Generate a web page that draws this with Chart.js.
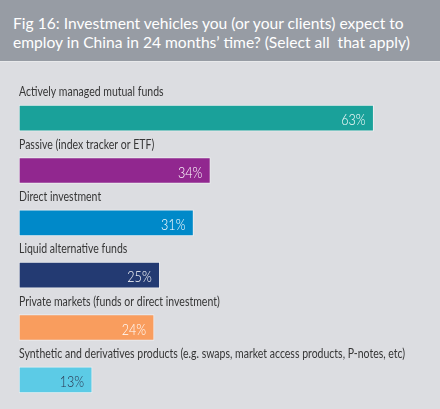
<!DOCTYPE html>
<html>
<head>
<meta charset="utf-8">
<script src="https://cdn.jsdelivr.net/npm/chart.js@4/dist/chart.umd.min.js"></script>
<style>
  html, body { margin: 0; padding: 0; }
  body { width: 440px; height: 409px; background: #dcdde1; position: relative; overflow: hidden;
         font-family: Lato, sans-serif; }
  #header { position: absolute; left: 0; top: 0; width: 440px; height: 61px; background: #979ca4;
            border-bottom: 1px solid #e8e9eb; box-sizing: content-box; }
  #header div { position: absolute; left: 13px; top: 12.5px; color: #ffffff; font-size: 16px; line-height: 19px;
                white-space: nowrap; transform: scaleX(0.975); transform-origin: 0 0; }
  #wrap { position: absolute; left: 0; top: 62px; width: 440px; height: 347px; }
</style>
</head>
<body>
<div id="header"><div>Fig 16: Investment vehicles you (or your clients) expect to<br>employ in China in 24 months’ time? (Select all&nbsp; that apply)</div></div>
<div id="wrap"><canvas id="c"></canvas></div>
<script>
const categories = [
  "Actively managed mutual funds",
  "Passive (index tracker or ETF)",
  "Direct investment",
  "Liquid alternative funds",
  "Private markets (funds or direct investment)",
  "Synthetic and derivatives products (e.g. swaps, market access products, P-notes, etc)"
];
const values = [63, 34, 31, 25, 24, 13];
const valueLabels = ["63%", "34%", "31%", "25%", "24%", "13%"];
const barColors = ["#1aa19a", "#91278f", "#0089c9", "#233a72", "#f99d5e", "#5ccbe6"];
const labelColors = ["#ffffff", "#ffffff", "#ffffff", "#ffffff", "#ffffff", "#2a3550"];

const FONT = 'Lato, sans-serif';

const labelPlugin = {
  id: 'barLabels',
  afterDatasetsDraw(chart) {
    const ctx = chart.ctx;
    const meta = chart.getDatasetMeta(0);
    meta.data.forEach((bar, i) => {
      const p = bar.getProps(['x', 'y', 'base', 'height'], true);
      const top = p.y - p.height / 2;
      // category label above the bar (condensed)
      ctx.save();
      ctx.font = '12.5px ' + FONT;
      ctx.fillStyle = '#363636';
      ctx.textAlign = 'left';
      ctx.textBaseline = 'alphabetic';
      ctx.translate(p.base, top - 9);
      ctx.scale(0.84, 1);
      ctx.fillText(categories[i], 0, 0);
      ctx.restore();
      // value label inside the bar end
      ctx.save();
      ctx.font = '300 15px ' + FONT;
      ctx.fillStyle = labelColors[i];
      ctx.textAlign = 'right';
      ctx.textBaseline = 'alphabetic';
      ctx.translate(p.x - 8, p.y + 7);
      ctx.scale(0.84, 1);
      ctx.fillText(valueLabels[i], 0, 0);
      ctx.restore();
    });
  }
};

new Chart(document.getElementById('c'), {
  type: 'bar',
  data: {
    labels: categories,
    datasets: [{
      data: values,
      backgroundColor: barColors,
      borderColor: 'rgba(245,245,247,0.7)',
      borderWidth: 1,
      borderSkipped: false,
      barThickness: 26
    }]
  },
  options: {
    indexAxis: 'y',
    responsive: true,
    maintainAspectRatio: false,
    animation: false,
    layout: { padding: { left: 19, right: 27, top: 30, bottom: 3 } },
    scales: {
      x: { display: false, min: 0, max: 70 },
      y: { display: false }
    },
    plugins: {
      legend: { display: false },
      tooltip: { enabled: false }
    }
  },
  plugins: [labelPlugin]
});
</script>
</body>
</html>
